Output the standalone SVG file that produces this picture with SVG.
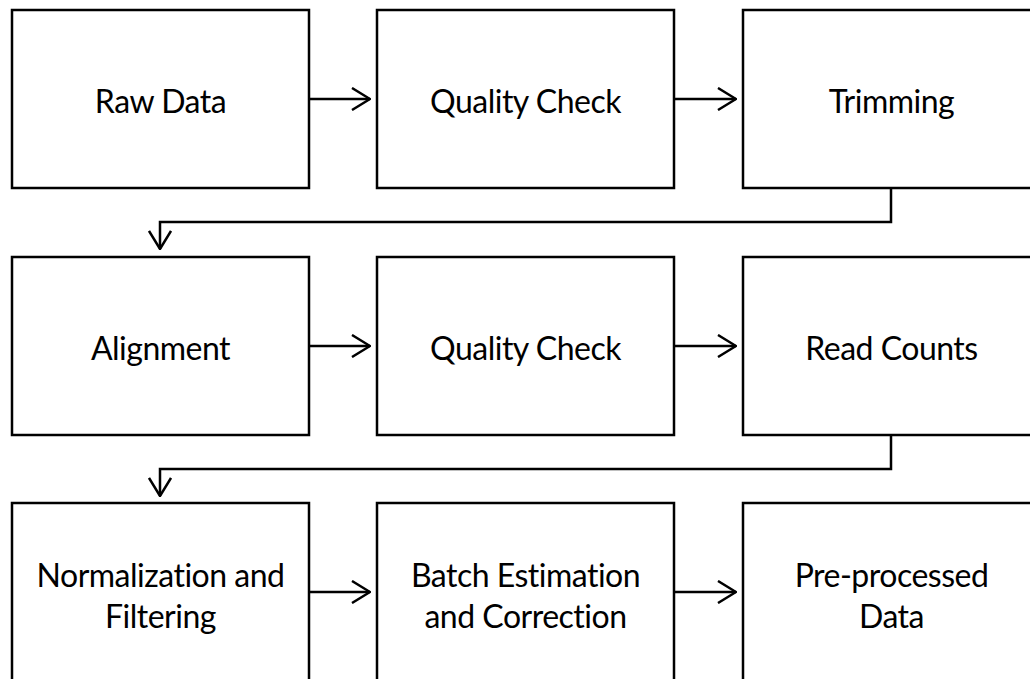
<svg xmlns="http://www.w3.org/2000/svg" width="1030" height="679" viewBox="0 0 1030 679">
<defs>
<marker id="arr" viewBox="0 0 20 24" refX="19" refY="12" markerWidth="20" markerHeight="24" markerUnits="userSpaceOnUse" orient="auto">
<path d="M1,1 L19,12 L1,23" fill="none" stroke="#000" stroke-width="2.5"/>
</marker>
<style>
.box{fill:#fff;stroke:#000;stroke-width:2.5}
.lbl{font-family:Lato,"Liberation Sans",sans-serif;font-size:32px;letter-spacing:-0.5px;fill:#000;text-anchor:middle}
.con{fill:none;stroke:#000;stroke-width:2.5;marker-end:url(#arr)}
</style>
</defs>
<rect width="1030" height="679" fill="#fff"/>
<g id="n1"><rect class="box" x="12" y="10" width="297" height="178"/><text class="lbl" x="160.5" y="113">Raw Data</text></g>
<g id="n2"><rect class="box" x="377" y="10" width="297" height="178"/><text class="lbl" x="525.5" y="113">Quality Check</text></g>
<g id="n3"><rect class="box" x="743" y="10" width="297" height="178"/><text class="lbl" x="891.5" y="113">Trimming</text></g>
<g id="n4"><rect class="box" x="12" y="257" width="297" height="178"/><text class="lbl" x="160.5" y="360">Alignment</text></g>
<g id="n5"><rect class="box" x="377" y="257" width="297" height="178"/><text class="lbl" x="525.5" y="360">Quality Check</text></g>
<g id="n6"><rect class="box" x="743" y="257" width="297" height="178"/><text class="lbl" x="891.5" y="360">Read Counts</text></g>
<g id="n7"><rect class="box" x="12" y="503" width="297" height="178"/><text class="lbl" x="160.5" y="587">Normalization and</text><text class="lbl" x="160.5" y="628">Filtering</text></g>
<g id="n8"><rect class="box" x="377" y="503" width="297" height="178"/><text class="lbl" x="525.5" y="587">Batch Estimation</text><text class="lbl" x="525.5" y="628">and Correction</text></g>
<g id="n9"><rect class="box" x="743" y="503" width="297" height="178"/><text class="lbl" x="891.5" y="587">Pre-processed</text><text class="lbl" x="891.5" y="628">Data</text></g>
<g id="connectors">
<path class="con" d="M309,99 H370"/>
<path class="con" d="M674,99 H736"/>
<path class="con" d="M891,188 V222 H160 V249"/>
<path class="con" d="M309,346 H370"/>
<path class="con" d="M674,346 H736"/>
<path class="con" d="M891,435 V469 H160 V496"/>
<path class="con" d="M309,592 H370"/>
<path class="con" d="M674,592 H736"/>
</g>
</svg>
